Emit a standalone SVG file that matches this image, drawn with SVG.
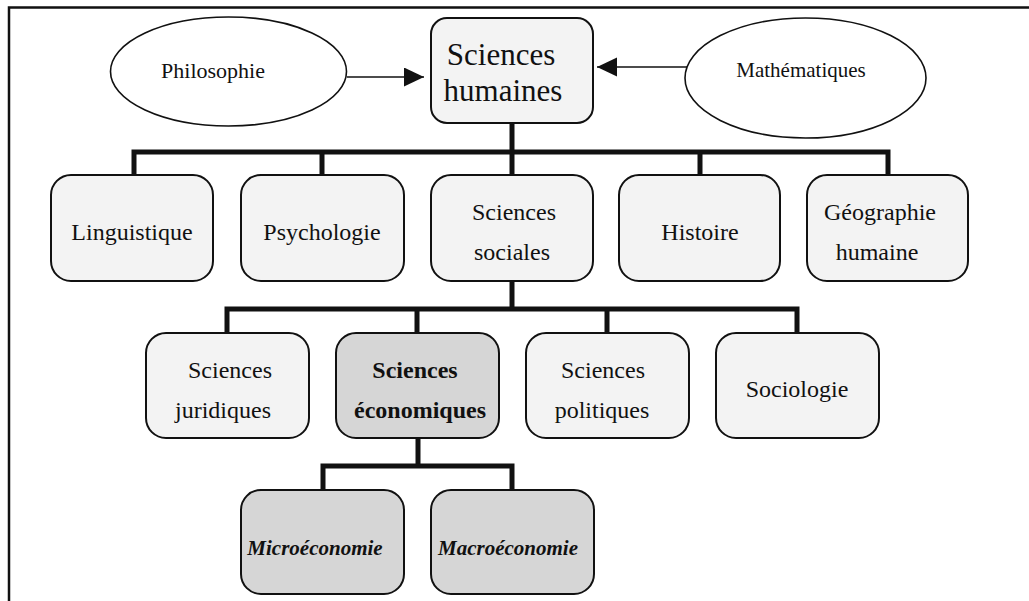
<svg xmlns="http://www.w3.org/2000/svg" width="1029" height="601" viewBox="0 0 1029 601">
  <style>
    text { font-family: "Liberation Serif", "Times New Roman", serif; fill: #111; text-anchor: middle; }
    .box { fill: #f3f3f3; stroke: #111; stroke-width: 2; }
    .dark { fill: #d6d6d6; stroke: #111; stroke-width: 2; }
    .ell { fill: #fff; stroke: #111; stroke-width: 1.6; }
    .conn { fill: none; stroke: #111; stroke-width: 5; stroke-linejoin: miter; stroke-linecap: butt; }
    .arrow { fill: none; stroke: #111; stroke-width: 1.6; }
    .t24 { font-size: 24px; }
    .t34 { font-size: 31px; }
    .bold { font-weight: bold; }
    .bi { font-size: 21px; font-weight: bold; font-style: italic; }
  </style>
  <defs>
    <marker id="ah" markerUnits="userSpaceOnUse" markerWidth="21" markerHeight="20" refX="20" refY="9.5" orient="auto">
      <path d="M0,0 L20,9.5 L0,19 Z" fill="#111"/>
    </marker>
  </defs>

  <path d="M9,601 V7.5 H1029" fill="none" stroke="#111" stroke-width="2.5"/>

  <g id="connectors">
    <line class="arrow" x1="347" y1="77" x2="424" y2="77" marker-end="url(#ah)"/>
    <line class="arrow" x1="687" y1="67" x2="597" y2="67" marker-end="url(#ah)"/>
    <path class="conn" d="M512,123 V152"/>
    <path class="conn" d="M134,176 V152 H888 V176"/>
    <path class="conn" d="M322,152 V176 M512,152 V176 M700,152 V176"/>
    <path class="conn" d="M512,281 V309"/>
    <path class="conn" d="M227,334 V309 H797 V334"/>
    <path class="conn" d="M417,309 V334 M607,309 V334"/>
    <path class="conn" d="M418,438 V466"/>
    <path class="conn" d="M323,491 V466 H512 V491"/>
  </g>

  <g id="philosophie">
    <ellipse class="ell" cx="228.5" cy="71.5" rx="118" ry="54.5"/>
    <text x="213" y="78" style="font-size:22px">Philosophie</text>
  </g>
  <g id="mathematiques">
    <ellipse class="ell" cx="805.5" cy="78" rx="120.5" ry="60"/>
    <text x="801" y="77" style="font-size:21px">Mathématiques</text>
  </g>
  <g id="sciences-humaines">
    <rect class="box" x="431" y="18" width="162" height="105" rx="16"/>
    <text class="t34" x="501" y="65">Sciences</text>
    <text class="t34" x="503" y="101">humaines</text>
  </g>

  <g id="linguistique">
    <rect class="box" x="51" y="175" width="162" height="106" rx="20"/>
    <text class="t24" x="132" y="240">Linguistique</text>
  </g>
  <g id="psychologie">
    <rect class="box" x="241" y="175" width="163" height="106" rx="20"/>
    <text class="t24" x="322" y="240">Psychologie</text>
  </g>
  <g id="sciences-sociales">
    <rect class="box" x="431" y="175" width="162" height="106" rx="20"/>
    <text class="t24" x="514" y="220">Sciences</text>
    <text class="t24" x="512" y="260">sociales</text>
  </g>
  <g id="histoire">
    <rect class="box" x="619" y="175" width="161" height="106" rx="20"/>
    <text class="t24" x="700" y="240">Histoire</text>
  </g>
  <g id="geographie-humaine">
    <rect class="box" x="807" y="175" width="161" height="106" rx="20"/>
    <text class="t24" x="880" y="220">Géographie</text>
    <text class="t24" x="877" y="260">humaine</text>
  </g>

  <g id="sciences-juridiques">
    <rect class="box" x="146" y="333" width="163" height="105" rx="20"/>
    <text class="t24" x="230" y="378">Sciences</text>
    <text class="t24" x="223" y="418">juridiques</text>
  </g>
  <g id="sciences-economiques">
    <rect class="dark" x="336" y="333" width="163" height="105" rx="20"/>
    <text class="t24 bold" x="415" y="378">Sciences</text>
    <text class="t24 bold" x="420" y="418">économiques</text>
  </g>
  <g id="sciences-politiques">
    <rect class="box" x="526" y="333" width="163" height="105" rx="20"/>
    <text class="t24" x="603" y="378">Sciences</text>
    <text class="t24" x="602" y="418">politiques</text>
  </g>
  <g id="sociologie">
    <rect class="box" x="716" y="333" width="163" height="105" rx="20"/>
    <text class="t24" x="797" y="397">Sociologie</text>
  </g>

  <g id="microeconomie">
    <rect class="dark" x="241" y="490" width="163" height="104" rx="20"/>
    <text class="bi" x="315" y="555">Microéconomie</text>
  </g>
  <g id="macroeconomie">
    <rect class="dark" x="431" y="490" width="163" height="104" rx="20"/>
    <text class="bi" x="508" y="555">Macroéconomie</text>
  </g>
</svg>
